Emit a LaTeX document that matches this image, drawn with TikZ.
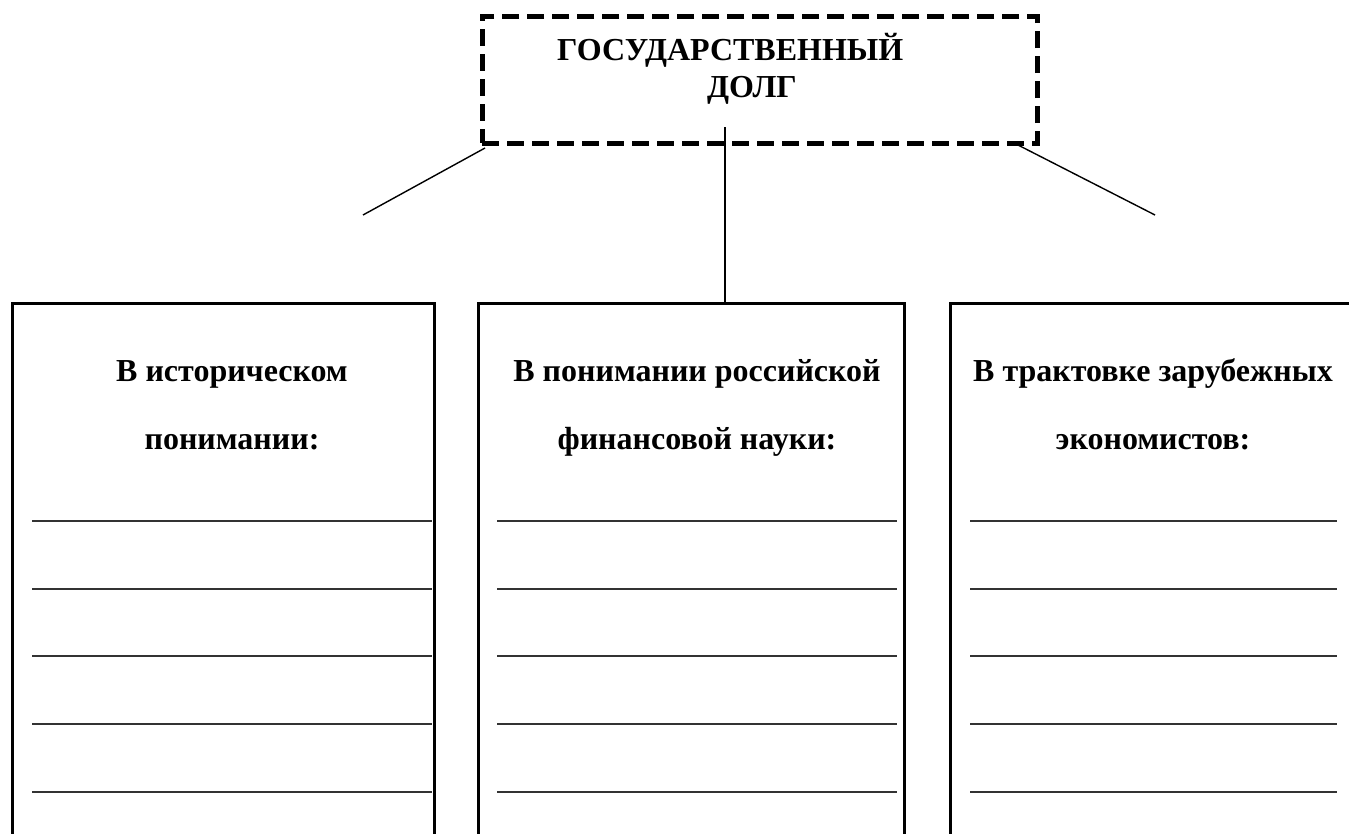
\documentclass[tikz,border=0pt]{standalone}
\usepackage{fontspec}
\setmainfont{Liberation Serif}
\usetikzlibrary{calc}
\begin{document}
\begin{tikzpicture}[x=1pt,y=-1pt,
  titlebox/.style={draw, line width=5pt, dash pattern=on 17pt off 8pt, inner sep=0pt, outer sep=0pt},
  colbox/.style={draw, line width=3pt, inner sep=0pt, outer sep=0pt, anchor=north west},
  titletext/.style={inner sep=0pt, anchor=base west, font=\fontsize{32}{32}\selectfont\bfseries},
  headtext/.style={inner sep=0pt, anchor=base, font=\fontsize{32}{32}\selectfont\bfseries},
  conn/.style={line width=1.4pt},
  stem/.style={line width=2.4pt},
  blank/.style={line width=1.3pt, black!80}
]
\useasboundingbox (0,0) rectangle (1349,833);
\clip (0,0) rectangle (1349,833);

% title
\node[titlebox, minimum width=555pt, minimum height=127pt] (title) at (759.5,79.5) {};
\node[titletext] (t1) at (557,60) {ГОСУДАРСТВЕННЫЙ};
\node[titletext] (t2) at (707,97) {ДОЛГ};

% columns
\node[colbox, minimum width=422pt, minimum height=700pt] (b1) at (12,303) {};
\node[colbox, minimum width=426pt, minimum height=700pt] (b2) at (478,303) {};
\node[colbox, minimum width=440pt, minimum height=700pt] (b3) at (950,303) {};

% headings
\node[headtext] (h1a) at (232,381) {В историческом};
\node[headtext] (h1b) at (232,449) {понимании:};
\node[headtext] (h2a) at (697,381) {В понимании российской};
\node[headtext] (h2b) at (697,449) {финансовой науки:};
\node[headtext] (h3a) at (1153,381) {В трактовке зарубежных};
\node[headtext] (h3b) at (1153,449) {экономистов:};

% blank lines
\foreach \y in {521,589,656,724,792}{
  \draw[blank] (32,\y) -- (432,\y);
  \draw[blank] (497,\y) -- (897,\y);
  \draw[blank] (970,\y) -- (1337,\y);
}

% connectors
\coordinate (lend) at (363,215);
\coordinate (rend) at (1155,215);
\coordinate (mtop) at (725,127);
\draw[conn] ($(title.south west)+(3,5)$) -- (lend);
\draw[conn] ($(title.south east)+(-19,2)$) -- (rend);
\draw[stem] (mtop) -- (mtop |- b2.north);
\end{tikzpicture}
\end{document}
